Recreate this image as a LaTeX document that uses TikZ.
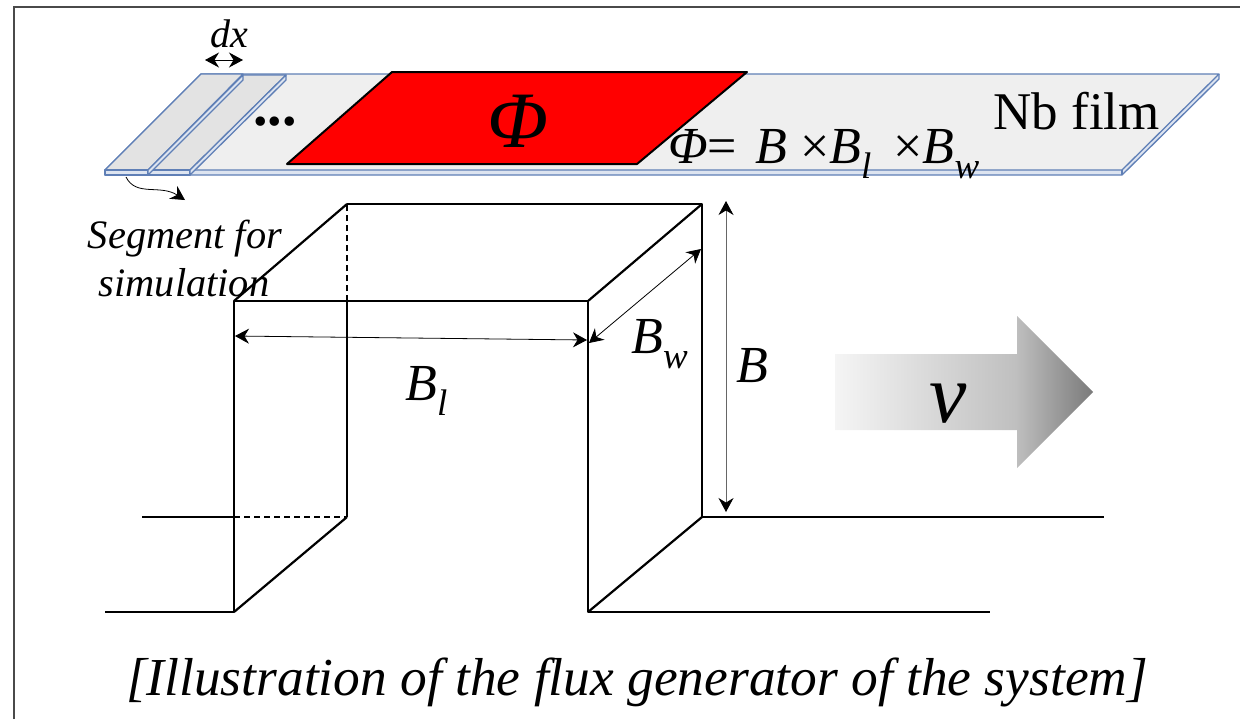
\documentclass[tikz,border=0pt]{standalone}
\usepackage{fontspec}
\setmainfont{Liberation Serif}
\usepackage{tikz}
\usetikzlibrary{arrows.meta,positioning}

\definecolor{filmgray}{HTML}{EFEFEF}
\definecolor{seggray}{HTML}{E3E3E3}
\definecolor{filmblue}{HTML}{5F7FB6}
\definecolor{sideblue}{HTML}{DDE4F0}
\definecolor{framegray}{HTML}{4A4A4A}

\pgfdeclarehorizontalshading{speedshade}{100bp}{
    color(0bp)=(black!4); color(25bp)=(black!4);
    color(60bp)=(black!25); color(75bp)=(black!52); color(100bp)=(black!52)}

\newcommand{\txtsize}[1]{\fontsize{#1}{#1}\selectfont}
\newcommand{\bsub}[1]{\textit{B}\raisebox{-0.3em}{\txtsize{18.5}\textit{#1}}}

\begin{document}
\begin{tikzpicture}[
    x=0.5pt, y=-0.5pt,
    >={Stealth[length=7pt,width=7.5pt]},
    every node/.style={inner sep=0pt},
    film/.style={draw=filmblue, line width=0.65pt, line join=round},
    wall/.style={line width=1.35pt, line join=round},
    slant/.style={line width=1.1pt},
    dimline/.style={<->, line width=0.4pt}
]
\useasboundingbox (0,0) rectangle (1240,719);

% Outer frame
\draw[framegray, line width=1pt] (14,719) -- (14,7) -- (1240,7);

% Nb film
\fill[sideblue] (105,170) -- (1122,170) -- (1219,74) -- (1219,79) -- (1122,175) -- (105,175) -- cycle;
\draw[film, fill=filmgray] (105,170) -- (201,74) -- (1219,74) -- (1122,170) -- cycle;
\draw[film] (105,170) -- (105,175) -- (1122,175) -- (1219,79) -- (1219,74);
\draw[film] (1122,170) -- (1122,175);

% Segments
\draw[film, fill=seggray] (148,170) -- (243,75) -- (286,75) -- (190,170) -- cycle;
\draw[film, fill=sideblue] (148,170) -- (190,170) -- (190,175) -- (148,175) -- cycle;
\draw[film, fill=sideblue] (190,170) -- (286,75) -- (286,80) -- (190,175) -- cycle;
\draw[film, fill=seggray] (105,170) -- (201,74) -- (243,74) -- (148,170) -- cycle;
\draw[film, fill=sideblue] (105,170) -- (148,170) -- (148,175) -- (105,175) -- cycle;
\draw[film, fill=sideblue] (148,170) -- (243,75) -- (243,80) -- (148,175) -- cycle;

% Flux window
\draw[line width=1pt, fill=red, line join=round] (287,164) -- (392,72) -- (747,72) -- (637,164) -- cycle;

% Pulse
\draw[wall] (105,612) -- (234,612) -- (234,301) -- (588,301) -- (588,612) -- (990,612);
\draw[wall] (142,517) -- (234,517);
\draw[densely dashed, line width=0.9pt] (234,517) -- (347,517);
\draw[wall] (347,517) -- (347,301);
\draw[densely dashed, line width=0.6pt] (347,301) -- (347,204);
\draw[wall] (347,204) -- (702,204) -- (702,517) -- (1104,517);
\draw[slant] (234,612) -- (347,517);
\draw[slant] (588,612) -- (702,517);
\draw[slant] (234,301) -- (347,204);
\draw[slant] (588,301) -- (702,204);

% Dimension ends
\coordinate (dxL) at (205,60);
\coordinate (dxR) at (243,60);
\coordinate (BlL) at (235,336);
\coordinate (BlR) at (587,340);
\coordinate (BwL) at (589,343);
\coordinate (BwR) at (701,249);
\coordinate (BT)  at (726,201);
\coordinate (BB)  at (726,512);
\coordinate (segS) at (126,177);
\coordinate (segE) at (185,200);

% Arrows
\draw[dimline, line width=0.5pt] (dxL) -- (dxR);
\draw[dimline] (BlL) -- (BlR);
\draw[dimline] (BwL) -- (BwR);
\draw[dimline, black!60, {Stealth[length=7pt,width=7.5pt,black]}-{Stealth[length=7pt,width=7.5pt,black]}] (BT) -- (BB);
\draw[->, line width=0.4pt] (segS) .. controls (136,197) and (160,184) .. (segE);

% Speed arrow
\shade[shading=speedshade] (835,354) -- (1017,354) -- (1017,316) -- (1093,392) -- (1017,468) -- (1017,430) -- (835,430) -- cycle;

% Labels
\node[anchor=base] (dxlabel) at (229,47) {\txtsize{20}\textit{dx}};
\node[anchor=base] (dots) at (275,125) {\txtsize{29}\textbf{...}};
\node[anchor=base] (fluxlabel) at (518,147) {\txtsize{40}\textit{Φ}};
\node[anchor=base west] (nblabel) at (993,129) {\txtsize{26.5}Nb film};
\node[anchor=base west] (formula) at (668,163) {\txtsize{26}\textit{Φ}=\hspace{9pt}\textit{B} ×\bsub{l}\hspace{11pt}×\bsub{w}};
\node[anchor=base] (seglabela) at (185,248) {\txtsize{20.2}\textit{Segment for}};
\node[anchor=base] (seglabelb) at (184,296) {\txtsize{20.2}\textit{simulation}};
\node[anchor=base west] (Bllabel) at (405,400) {\txtsize{26}\bsub{l}};
\node[anchor=base west] (Bwlabel) at (631,353) {\txtsize{26}\bsub{w}};
\node[anchor=base west] (Blabel) at (736,382) {\txtsize{26}\textit{B}};
\node[anchor=base] (vlabel) at (948,422) {\txtsize{42}\textit{v}};
\node[anchor=base] (caption) at (637,695) {\txtsize{26.7}\textit{[Illustration of the flux generator of the system]}};

\end{tikzpicture}
\end{document}
